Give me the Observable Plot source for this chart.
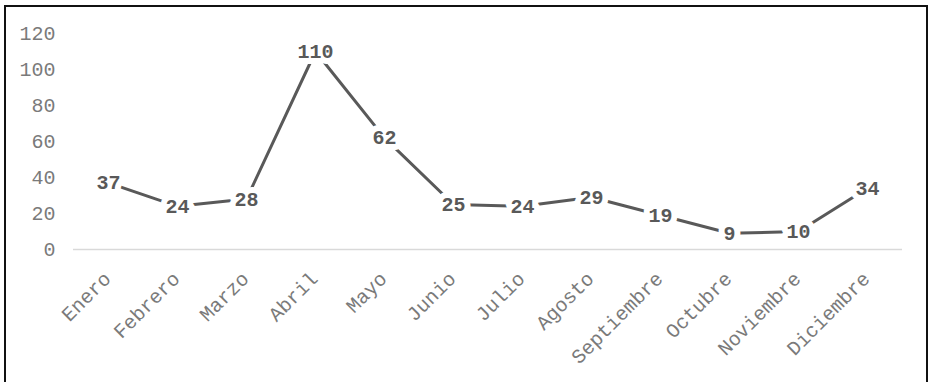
<!DOCTYPE html>
<html>
<head>
<meta charset="utf-8">
<script src="https://cdn.jsdelivr.net/npm/d3@7"></script>
<script src="https://cdn.jsdelivr.net/npm/@observablehq/plot@0.6"></script>
<style>
  html, body { margin: 0; padding: 0; background: #fff; }
  #wrap { position: relative; width: 933px; height: 382px; overflow: hidden; }
  #border { position: absolute; left: 4px; top: 5px; width: 920px; height: 400px; border: 2px solid #111; }
  #chart { position: absolute; left: 0; top: 0; }
</style>
</head>
<body>
<div id="wrap">
  <div id="border"></div>
  <div id="chart"></div>
</div>
<script>
const months = ["Enero","Febrero","Marzo","Abril","Mayo","Junio","Julio","Agosto","Septiembre","Octubre","Noviembre","Diciembre"];
const values = [37, 24, 28, 110, 62, 25, 24, 29, 19, 9, 10, 34];
const yTicks = [0, 20, 40, 60, 80, 100, 120];

const data = months.map((m, i) => ({month: m, value: values[i]}));
const font = "'Courier New', 'Liberation Mono', monospace";

const chart = Plot.plot({
  width: 933,
  height: 382,
  marginLeft: 73,
  marginRight: 31,
  marginTop: 33,
  marginBottom: 133,
  style: {fontFamily: font, fontSize: "20px", color: "#595959", background: "transparent"},
  x: {type: "point", domain: months, padding: 0.5, axis: null},
  y: {domain: [0, 120], ticks: yTicks, axis: null},
  marks: [
    Plot.ruleY([0], {stroke: "#d9d9d9", strokeWidth: 1.5}),
    Plot.axisY({ticks: yTicks, tickSize: 0, tickPadding: 18, label: null, fontSize: 20, fill: "#7a7a7a", fontFamily: font}),
    Plot.text(months, {x: d => d, frameAnchor: "bottom", dy: 26, dx: -1, rotate: -45, textAnchor: "end", lineAnchor: "middle", fill: "#7a7a7a", fontSize: 20, fontFamily: font}),
    Plot.line(data, {x: "month", y: "value", stroke: "#595959", strokeWidth: 3}),
    Plot.text(data, {x: "month", y: "value", text: d => String(d.value), fill: "#595959", stroke: "white", strokeWidth: 12, fontWeight: "bold", fontSize: 20, fontFamily: font, lineAnchor: "middle"})
  ]
});
document.getElementById("chart").appendChild(chart);
</script>
</body>
</html>
